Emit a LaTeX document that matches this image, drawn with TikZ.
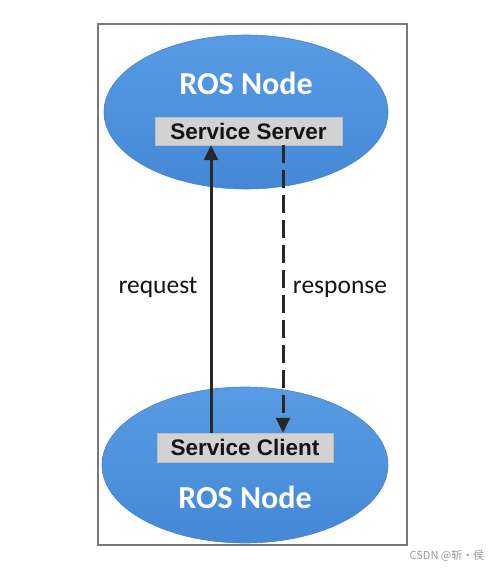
\documentclass[tikz,border=0pt]{standalone}
\usepackage{fontspec}
\setmainfont{Carlito}
\newfontfamily\boxfont{Liberation Sans}
\newfontfamily\cjkfont{Noto Sans CJK SC}
\usetikzlibrary{shapes.geometric,arrows.meta}
\definecolor{nodeblueL}{RGB}{88,155,228}
\definecolor{nodeblueD}{RGB}{68,136,214}
\definecolor{nodeedge}{RGB}{70,132,205}
\definecolor{boxgray}{RGB}{210,210,210}
\definecolor{framegray}{RGB}{120,120,120}
\definecolor{arrowgray}{RGB}{40,40,40}
\tikzset{
  rosnode/.style={ellipse, top color=nodeblueL, bottom color=nodeblueD, draw=nodeedge, line width=0.6pt, inner sep=0pt},
  rostext/.style={text=white, font=\bfseries\fontsize{32}{34}\selectfont},
  svcbox/.style={rectangle, fill=boxgray, draw=boxgray!90!black, line width=0.4pt, inner sep=0pt, font=\boxfont\bfseries\fontsize{22.5}{24}\selectfont, text=black!92},
  lbl/.style={font=\fontsize{25.5}{27}\selectfont, text=black!92, anchor=base},
  reqarrow/.style={draw=arrowgray, line width=3pt, -{Triangle[length=15pt,width=14pt]}},
  resarrow/.style={draw=arrowgray, line width=3pt, dash pattern=on 18pt off 7pt, -{Triangle[length=15pt,width=14pt]}}
}
\begin{document}
\begin{tikzpicture}[x=1pt,y=-1pt]
\useasboundingbox[fill=white] (0,0) rectangle (500,571);
\draw[framegray, line width=1.8pt] (98,24) rectangle (407,545);
\node[rosnode, minimum width=284pt, minimum height=154pt] (top) at (246,112) {};
\node[rosnode, minimum width=286pt, minimum height=156pt] (bot) at (245,465) {};
\node[rostext] (ros1) at (246,83) {ROS Node};
\node[rostext] (ros2) at (245,497) {ROS Node};
\node[svcbox, minimum width=187pt, minimum height=28pt] (server) at (248.5,131) {Service Server};
\node[svcbox, minimum width=176pt, minimum height=29pt] (client) at (245,447.5) {Service Client};
\coordinate (reqx) at (211,0);
\coordinate (resx) at (283,0);
\draw[reqarrow] (client.north -| reqx) -- (server.south -| reqx);
\draw[resarrow] (server.south -| resx) -- (client.north -| resx);
\node[lbl] (req) at (158,293) {request};
\node[lbl] (res) at (340,293) {response};
\node[text=black!40, font=\cjkfont\fontsize{11}{12}\selectfont] (wm) at (447,556) {CSDN @斩·侯};
\end{tikzpicture}
\end{document}
